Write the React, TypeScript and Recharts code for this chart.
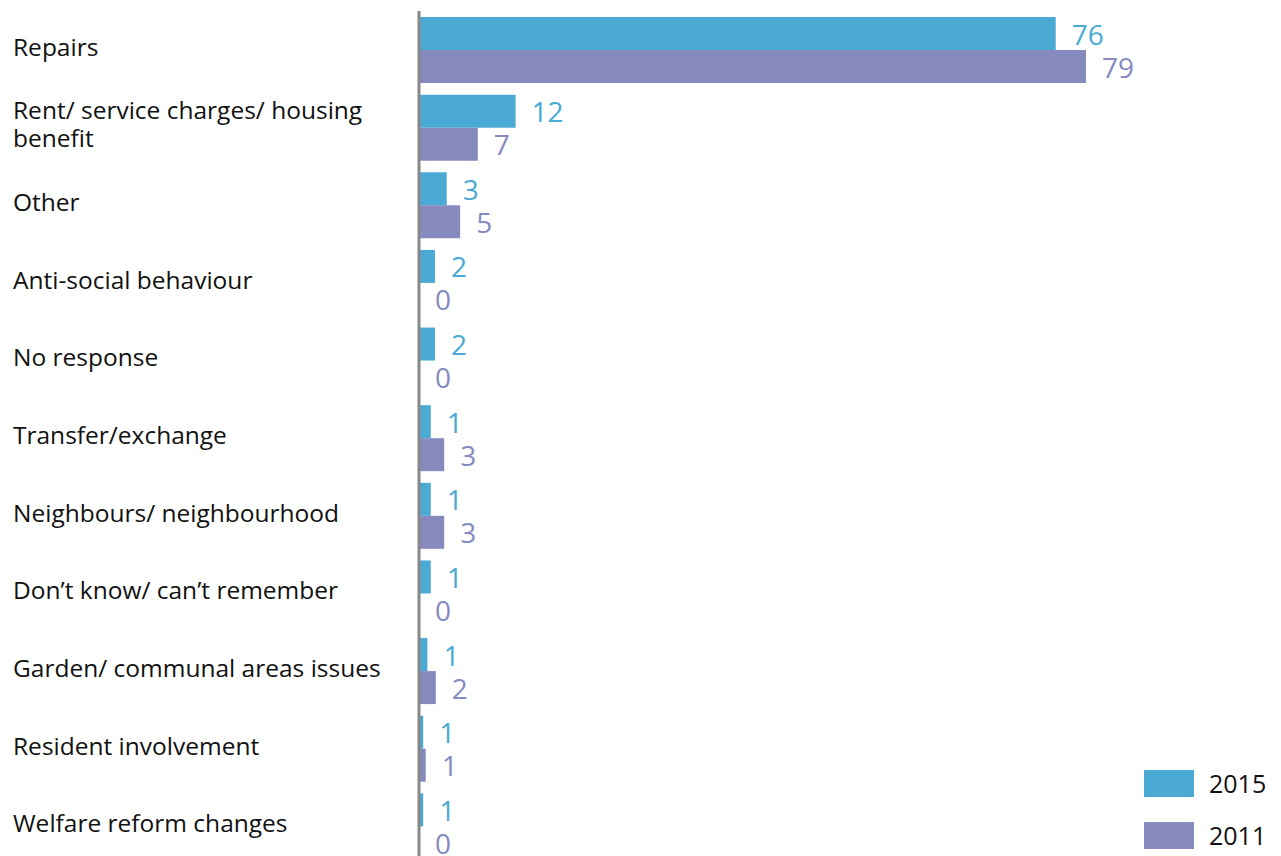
import React from 'react';
import { BarChart, Bar, XAxis, YAxis, LabelList } from 'recharts';

const categories = [
  'Repairs',
  'Rent/ service charges/ housing\nbenefit',
  'Other',
  'Anti-social behaviour',
  'No response',
  'Transfer/exchange',
  'Neighbours/ neighbourhood',
  'Don’t know/ can’t remember',
  'Garden/ communal areas issues',
  'Resident involvement',
  'Welfare reform changes',
];
const values2015 = [75.8, 11.5, 3.3, 1.9, 1.9, 1.4, 1.4, 1.4, 1.0, 0.5, 0.5];
const values2011 = [79.4, 7.0, 4.9, 0, 0, 3.0, 3.0, 0, 2.0, 0.8, 0];
const labels2015 = ['76', '12', '3', '2', '2', '1', '1', '1', '1', '1', '1'];
const labels2011 = ['79', '7', '5', '0', '0', '3', '3', '0', '2', '1', '0'];
const seriesNames = ['2015', '2011'];

const COLOR_2015 = '#4AAAD4';
const COLOR_2011 = '#868ABF';
const FONT = '"Open Sans", "Noto Sans", sans-serif';

const data = categories.map((c, i) => ({
  category: c,
  v2015: values2015[i],
  v2011: values2011[i],
  l2015: labels2015[i],
  l2011: labels2011[i],
}));

const CategoryTick = (props: any) => {
  const { y, payload } = props;
  const lines = String(payload.value).split('\n');
  const lh = 28;
  const start = y - ((lines.length - 1) * lh) / 2 + 6;
  return (
    <text x={13} y={start} textAnchor="start" fill="#111" fontSize={24.5} fontFamily={FONT}>
      {lines.map((l, i) => (
        <tspan key={i} x={13} y={start + i * lh}>
          {l}
        </tspan>
      ))}
    </text>
  );
};

const valueText = (x: number, y: number, color: string, value: string, key?: string) => (
  <text
    key={key}
    x={x}
    y={y}
    dominantBaseline="central"
    textAnchor="start"
    fill={color}
    fontSize={28}
    fontFamily={FONT}
  >
    {value}
  </text>
);

const Label2015 = (props: any) => {
  const { x, y, width, height, value, index } = props;
  const items = [valueText(x + width + 16, y + height / 2, COLOR_2015, value, 'a')];
  if (index != null && values2011[index] === 0) {
    // 2011 bar has zero length: its label sits just right of the axis, in the 2011 slot
    items.push(valueText(x + 16, y + height * 1.5, COLOR_2011, labels2011[index], 'b'));
  }
  return <g>{items}</g>;
};

const Label2011 = (props: any) => {
  const { x, y, width, height, value } = props;
  return valueText(x + width + 16, y + height / 2, COLOR_2011, value);
};

const LegendBox = () => (
  <div style={{ position: 'absolute', left: 1144, top: 770, fontFamily: FONT }}>
    {seriesNames.map((name, i) => (
      <div key={name} style={{ display: 'flex', alignItems: 'center', height: 27, marginBottom: i === 0 ? 25 : 0 }}>
        <div style={{ width: 50, height: 27, background: i === 0 ? COLOR_2015 : COLOR_2011 }} />
        <span style={{ marginLeft: 15, fontSize: 25, color: '#111', lineHeight: '27px' }}>{name}</span>
      </div>
    ))}
  </div>
);

export default function App() {
  return (
    <div style={{ position: 'fixed', left: 0, top: 0, width: 1281, height: 856, overflow: 'hidden', background: '#fff' }}>
      <BarChart
        width={1281}
        height={865}
        data={data}
        layout="vertical"
        margin={{ top: 11, right: 22, bottom: 0, left: 0 }}
        barGap={0}
        barSize={33}
      >
        <XAxis type="number" domain={[0, 100]} hide />
        <YAxis
          type="category"
          dataKey="category"
          width={419}
          axisLine={{ stroke: '#888888', strokeWidth: 3 }}
          tickLine={false}
          tick={<CategoryTick />}
          interval={0}
        />
        <Bar dataKey="v2015" name="2015" fill={COLOR_2015} isAnimationActive={false}>
          <LabelList dataKey="l2015" content={<Label2015 />} />
        </Bar>
        <Bar dataKey="v2011" name="2011" fill={COLOR_2011} isAnimationActive={false}>
          <LabelList dataKey="l2011" content={<Label2011 />} />
        </Bar>
      </BarChart>
      <LegendBox />
    </div>
  );
}
